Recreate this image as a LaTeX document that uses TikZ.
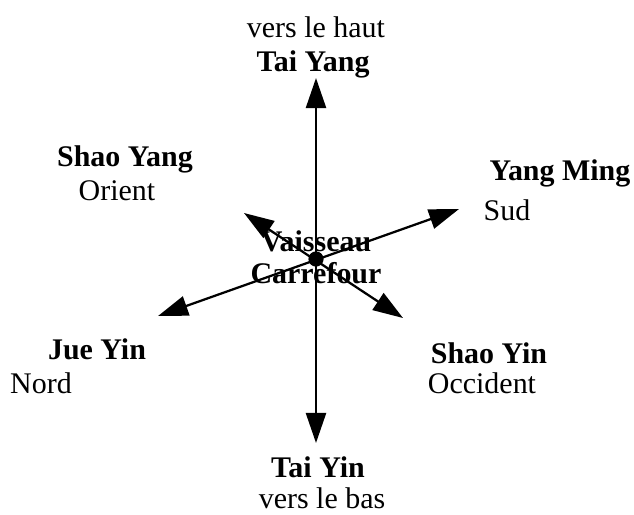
\documentclass[tikz,border=0pt]{standalone}
\usepackage{fontspec}
\setmainfont{Liberation Serif}
\usetikzlibrary{arrows.meta}
\begin{document}
\begin{tikzpicture}[x=0.025cm, y=-0.025cm,
    every node/.style={font=\fontsize{21.3}{25}\selectfont, inner sep=0pt},
    nom/.style={font=\fontsize{21.3}{25}\selectfont\bfseries},
    axe/.style={line width=1.6pt, {Triangle[length=0.75cm, width=0.5cm]}-{Triangle[length=0.75cm, width=0.5cm]}}]
    \useasboundingbox (0, 0) rectangle (634, 515);

    % extremites des axes
    \coordinate (haut) at (316, 78);
    \coordinate (bas) at (316, 443);
    \coordinate (sud) at (459, 209);
    \coordinate (nord) at (158, 316);
    \coordinate (orient) at (244, 213);
    \coordinate (occident) at (403, 318);

    \draw[axe] (bas) -- (haut);
    \draw[axe] (nord) -- (sud);
    \draw[axe] (occident) -- (orient);

    % centre
    \node[circle, fill=black, minimum size=0.38cm] (centre) at (316, 259) {};
    \node[nom] (vaisseau) at (316, 241) {Vaisseau};
    \node[nom] (carrefour) at (316, 273) {Carrefour};

    % etiquettes
    \node (vhaut) at (316, 27) {vers le haut};
    \node[nom] (taiyang) at (313, 64) {Tai Yang};
    \node[nom] (shaoyang) at (125, 159) {Shao Yang};
    \node (orientlbl) at (117, 191) {Orient};
    \node[nom] (yangming) at (560, 173) {Yang Ming};
    \node (sudlbl) at (507, 210) {Sud};
    \node[nom] (jueyin) at (97, 349) {Jue Yin};
    \node (nordlbl) at (41, 383) {Nord};
    \node[nom] (shaoyin) at (489, 353) {Shao Yin};
    \node (occidentlbl) at (482, 383) {Occident};
    \node[nom] (taiyin) at (318, 467) {Tai Yin};
    \node (vbas) at (322, 498) {vers le bas};
\end{tikzpicture}
\end{document}
